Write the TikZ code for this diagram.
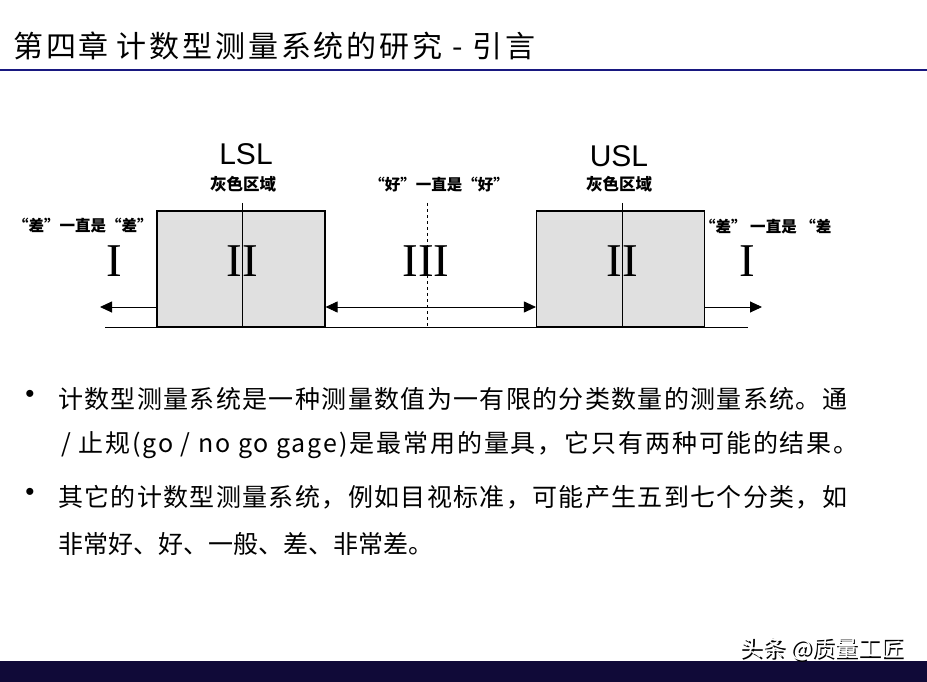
\documentclass[tikz,border=0pt]{standalone}
\usepackage{fontspec}
\setmainfont{Liberation Serif}
\newfontfamily\cjk{Noto Sans CJK SC}
\newfontfamily\arialfont{Liberation Sans}
\usetikzlibrary{positioning,arrows.meta,calc}
\definecolor{titlenavy}{RGB}{24,24,128}
\definecolor{barnavy}{RGB}{16,10,56}
\definecolor{zonegray}{RGB}{224,224,224}

\begin{document}
\begin{tikzpicture}[x=1pt,y=-1pt,>={Triangle[length=12pt,width=11pt]},
    zone/.style={draw,fill=zonegray,line width=1.1pt,minimum width=168pt,minimum height=116pt,inner sep=0pt},
    roman/.style={font=\fontsize{47}{47}\selectfont,inner sep=0pt},
    limit/.style={font=\arialfont\fontsize{30}{30}\selectfont,inner sep=0pt},
    small/.style={font=\cjk\bfseries\fontsize{16.5}{16.5}\selectfont,inner sep=0pt},
    quote/.style={font=\cjk\bfseries\fontsize{15.5}{15.5}\selectfont,inner sep=0pt},
    body/.style={font=\cjk\fontsize{25}{25}\selectfont,anchor=west,inner sep=0pt},
    dot/.style={font=\arialfont\fontsize{26}{26}\selectfont,inner sep=0pt}]
    \useasboundingbox (0,0) rectangle (927,682);
    % title and bars
    \node[font=\cjk\fontsize{30}{30}\selectfont\addfontfeature{LetterSpace=9.5},anchor=west,inner sep=0pt] (title) at (13,46)
        {第四章\hspace{8pt}计数型测量系统的研究\hspace{10pt}-\hspace{10pt}引言};
    \draw[titlenavy,line width=2pt] (0,70) -- (927,70);
    \fill[barnavy] (0,661) rectangle (927,682);
    % grey zones
    \node[zone] (lsl) at (241,269) {};
    \node[zone] (usl) at (620.5,269) {};
    \coordinate (lsltop) at (242,203);
    \coordinate (usltop) at (622,203);
    \draw[line width=0.8pt] (lsltop) -- (lsltop |- lsl.south);
    \draw[line width=0.8pt] (usltop) -- (usltop |- usl.south);
    \coordinate (gooda) at (427,203);
    \draw[dashed,line width=0.8pt] (gooda) -- (gooda |- lsl.south);
    \coordinate (axisl) at (105,327);
    \coordinate (axisr) at (748,327);
    \draw[line width=1pt] (axisl) -- (axisr);
    % arrows
    \coordinate (leftend) at (100,307);
    \coordinate (rightend) at (762,307);
    \draw[->,line width=0.9pt] (lsl.west |- leftend) -- (leftend);
    \draw[<->,line width=0.9pt] (lsl.east |- leftend) -- (usl.west |- leftend);
    \draw[->,line width=0.9pt] (usl.east |- rightend) -- (rightend);
    % labels
    \node[limit] (lsllab) at (246,154) {LSL};
    \node[limit] (usllab) at (619,156) {USL};
    \node[small] (lslgray) at (243,184) {灰色区域};
    \node[small] (uslgray) at (619,184) {灰色区域};
    \node[quote] (goodlab) at (439,185) {“好”一直是“好”};
    \node[quote,anchor=west] (badl) at (13,226) {“差”一直是“差”};
    \node[quote,anchor=west] (badr) at (700,227) {“差” 一直是 “差};
    \node[roman] (ia) at (114,261) {I};
    \node[roman] (iia) at (242,261) {II};
    \node[roman] (iii) at (426,261) {III};
    \node[roman] (iib) at (622,261) {II};
    \node[roman] (ib) at (747,261) {I};
    % bullets
    \node[dot] (b1) at (30,396) {•};
    \node[body,font=\cjk\fontsize{25}{25}\selectfont\addfontfeature{LetterSpace=5.4}] (t1) at (58,399)
        {计数型测量系统是一种测量数值为一有限的分类数量的测量系统。通};
    \node[body,font=\cjk\fontsize{25}{25}\selectfont\addfontfeature{LetterSpace=7.6}] (t2) at (61,445)
        {/ 止规(go / no go gage)是最常用的量具，它只有两种可能的结果。};
    \node[dot] (b2) at (30,494) {•};
    \node[body,font=\cjk\fontsize{25}{25}\selectfont\addfontfeature{LetterSpace=5.4}] (t3) at (58,497)
        {其它的计数型测量系统，例如目视标准，可能产生五到七个分类，如};
    \node[body] (t4) at (58,544) {非常好、好、一般、差、非常差。};
    % mark
    \node[font=\cjk\fontsize{23}{23}\selectfont,black,inner sep=0pt] (markshade) at (823.5,650.5) {头条 @质量工匠};
    \node[font=\cjk\fontsize{23}{23}\selectfont,white,inner sep=0pt] (mark) at (822,649) {头条 @质量工匠};
\end{tikzpicture}
\end{document}
